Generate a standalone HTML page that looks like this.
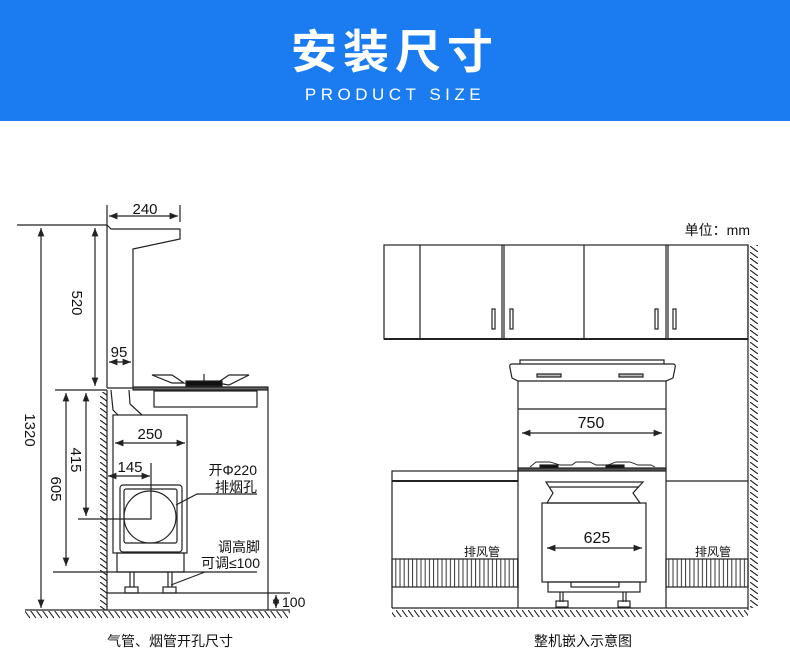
<!DOCTYPE html>
<html><head><meta charset="utf-8"><style>
html,body{margin:0;padding:0;background:#fff;}
body{width:790px;height:665px;overflow:hidden;}
svg text{font-family:"Liberation Sans","Noto Sans CJK SC",sans-serif;fill:#111;}
</style></head><body>
<svg width="790" height="665" viewBox="0 0 790 665" xmlns="http://www.w3.org/2000/svg">
<defs>
<marker id="a" viewBox="0 0 10 10" refX="10" refY="5" markerWidth="7" markerHeight="7" orient="auto-start-reverse"><path d="M0,1 L10,5 L0,9 z" fill="#222"/></marker>
<pattern id="hf" width="6" height="10" patternUnits="userSpaceOnUse"><line x1="0" y1="0" x2="6" y2="8" stroke="#222" stroke-width="1.1"/></pattern>
<pattern id="hw" width="10" height="6" patternUnits="userSpaceOnUse"><line x1="0" y1="0" x2="8" y2="6" stroke="#222" stroke-width="1.1"/></pattern>
<pattern id="vs" width="4.2" height="10" patternUnits="userSpaceOnUse"><line x1="1" y1="0" x2="1" y2="10" stroke="#333" stroke-width="1"/></pattern>
</defs>
<rect x="0" y="0" width="790" height="121" fill="#1a7cf0"/>
<text x="395" y="68" text-anchor="middle" font-size="46" font-weight="bold" style="fill:#fff" font-family="Noto Sans CJK SC,sans-serif" letter-spacing="6">安装尺寸</text>
<text x="395" y="100" text-anchor="middle" font-size="17" style="fill:#fff" letter-spacing="4.5">PRODUCT SIZE</text>

<g stroke="#222" stroke-width="1.2" fill="none">
<!-- LEFT DIAGRAM -->
<line x1="17" y1="225" x2="107" y2="225"/>
<path d="M107,225 V388 M107,225 L111,229 H180 V239 L133,249 V388"/>
<line x1="107" y1="205" x2="107" y2="225"/><line x1="180" y1="205" x2="180" y2="222"/>
<line x1="109" y1="216" x2="178" y2="216" marker-start="url(#a)" marker-end="url(#a)"/>
<line x1="95" y1="228" x2="95" y2="386" marker-start="url(#a)" marker-end="url(#a)"/>
<line x1="41" y1="228" x2="41" y2="608" marker-start="url(#a)" marker-end="url(#a)"/>
<line x1="109" y1="362" x2="131" y2="362" marker-start="url(#a)" marker-end="url(#a)"/>
<line x1="55" y1="390" x2="107" y2="390"/>
<line x1="107" y1="388" x2="268" y2="388"/>
<rect x="133" y="387" width="135" height="3" fill="#666"/>
<rect x="154" y="391" width="103" height="16"/>
<path d="M152,375 h20 l12,8 h-12 z M217,383 l12,-8 h20 l-20,10 z" />
<rect x="186" y="381" width="36" height="5" fill="#111"/>
<line x1="204" y1="374" x2="204" y2="382"/>
<path d="M107,390 V610 M268,390 V610"/>
<rect x="98" y="392" width="9" height="218" fill="url(#hw)" stroke="none"/>
<path d="M111,390 L113,410 L118,415 M129,390 L130,404 L142,415"/>
<rect x="113" y="415" width="74" height="138"/>
<rect x="117" y="553" width="67" height="19"/>
<rect x="120" y="485" width="62" height="67" rx="3"/>
<rect x="124" y="489" width="53" height="54" rx="2"/>
<circle cx="150" cy="517" r="26"/>
<path d="M130,572 v15 M134,572 v15 M168,572 v15 M172,572 v15"/>
<rect x="125" y="587" width="13" height="6"/><rect x="163" y="587" width="13" height="6"/>
<line x1="107" y1="593" x2="290" y2="593"/>
<line x1="115" y1="443" x2="185" y2="443" marker-start="url(#a)" marker-end="url(#a)"/>
<line x1="108" y1="476" x2="150" y2="476" marker-start="url(#a)" marker-end="url(#a)"/>
<path d="M151,463 V519 H78"/>
<line x1="86" y1="393" x2="86" y2="516" marker-start="url(#a)" marker-end="url(#a)"/>
<line x1="66" y1="393" x2="66" y2="566" marker-start="url(#a)" marker-end="url(#a)"/>
<line x1="53" y1="572" x2="257" y2="572"/>
<path d="M257,494 H197 L176,505"/>
<path d="M205,572 L171,585"/>
<line x1="276" y1="595" x2="276" y2="608" marker-start="url(#a)" marker-end="url(#a)"/>
<line x1="25" y1="610" x2="290" y2="610"/>
<rect x="25" y="611" width="265" height="8" fill="url(#hf)" stroke="none"/>

<!-- RIGHT DIAGRAM -->
<rect x="384" y="245" width="364" height="94"/>
<path d="M420,245 V339 M502,245 V339 M504,245 V339 M584,245 V339 M666,245 V339 M668,245 V339"/>
<line x1="384" y1="339" x2="748" y2="339" stroke-width="2"/>
<rect x="492" y="309" width="3" height="20"/><rect x="510" y="309" width="3" height="20"/>
<rect x="655" y="309" width="3" height="20"/><rect x="673" y="309" width="3" height="20"/>
<line x1="748" y1="245" x2="748" y2="610"/>
<rect x="749" y="245" width="9" height="363" fill="url(#hw)" stroke="none"/>
<path d="M520,364 V360 H664 V364"/>
<path d="M512,364 H673 Q676,364 675,368 L673,378 L666,381 H518 L512,378 L510,368 Q509,364 512,364 z"/>
<rect x="537" y="374" width="24" height="3" fill="#bbb"/><rect x="619" y="374" width="24" height="3" fill="#bbb"/>
<path d="M518,381 V470 M666,381 V470 M518,409 H666"/>
<line x1="522" y1="433" x2="662" y2="433" marker-start="url(#a)" marker-end="url(#a)"/>
<path d="M530,467 l6,-5 h14 l10,3 h12 l4,-3 h14 l6,3 h12 l8,-3 h14 l8,3 h13 l4,2" stroke-width="0.9"/>
<rect x="540" y="465" width="18" height="3" fill="#111"/><rect x="606" y="465" width="18" height="3" fill="#111"/>
<rect x="518" y="468" width="148" height="3" fill="#555"/>
<rect x="392" y="471" width="126" height="10"/>
<line x1="392" y1="481" x2="518" y2="481" stroke-width="2"/>
<line x1="666" y1="481" x2="748" y2="481"/>
<path d="M518,471 V608 M666,471 V608 M392,481 V608"/>
<path d="M546,482 H643 L633,493 L640,503 H547 L553,493 z"/>
<line x1="550" y1="487" x2="639" y2="487"/>
<rect x="542" y="503" width="104" height="79"/>
<rect x="548" y="582" width="92" height="10"/>
<rect x="571" y="582" width="48" height="5"/>
<path d="M560,592 v10 M563,592 v10 M623,592 v10 M626,592 v10"/>
<rect x="556" y="601" width="12" height="6"/><rect x="618" y="601" width="12" height="6"/>
<line x1="547" y1="548" x2="642" y2="548" marker-start="url(#a)" marker-end="url(#a)"/>
<rect x="392" y="559" width="126" height="28" fill="url(#vs)"/>
<rect x="666" y="559" width="82" height="28" fill="url(#vs)"/>
<line x1="392" y1="608" x2="748" y2="608"/>
<rect x="392" y="609" width="356" height="8" fill="url(#hf)" stroke="none"/>
</g>

<g font-size="15">
<text x="145" y="214" text-anchor="middle">240</text>
<text x="119" y="357" text-anchor="middle">95</text>
<text x="150" y="439" text-anchor="middle">250</text>
<text x="130" y="472" text-anchor="middle">145</text>
<text transform="translate(72,303) rotate(90)" text-anchor="middle">520</text>
<text transform="translate(25,430) rotate(90)" text-anchor="middle">1320</text>
<text transform="translate(71,460) rotate(90)" text-anchor="middle">415</text>
<text transform="translate(51,489) rotate(90)" text-anchor="middle">605</text>
<text x="282" y="607" font-size="14">100</text>
<text x="257" y="475" text-anchor="end" font-size="14">开Φ220</text>
<text x="257" y="492" text-anchor="end" font-size="14">排烟孔</text>
<text x="260" y="552" text-anchor="end" font-size="14">调高脚</text>
<text x="260" y="568" text-anchor="end" font-size="14">可调≤100</text>
<text x="170" y="646" text-anchor="middle" font-size="14">气管、烟管开孔尺寸</text>
<text x="591" y="428" text-anchor="middle" font-size="16">750</text>
<text x="597" y="543" text-anchor="middle" font-size="16">625</text>
<text x="750" y="235" text-anchor="end" font-size="14">单位：mm</text>
<text x="482" y="556" text-anchor="middle" font-size="12">排风管</text>
<text x="713" y="556" text-anchor="middle" font-size="12">排风管</text>
<text x="583" y="646" text-anchor="middle" font-size="14">整机嵌入示意图</text>
</g>
</svg>
</body></html>
